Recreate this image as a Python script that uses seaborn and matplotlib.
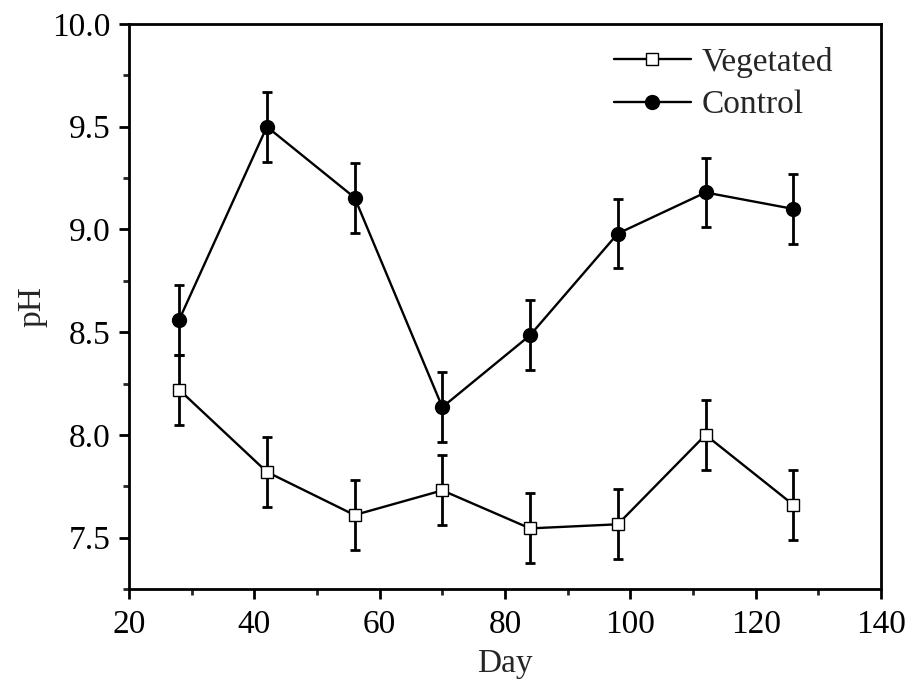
import matplotlib
matplotlib.use("Agg")
import matplotlib.pyplot as plt
from matplotlib.ticker import MultipleLocator, FormatStrFormatter
import pandas as pd
import seaborn as sns

# Sampling days and pH measurements (mean ± error)
days = [28, 42, 56, 70, 84, 98, 112, 126]
vegetated_ph = [8.22, 7.82, 7.61, 7.73, 7.545, 7.565, 8.00, 7.66]
vegetated_err = [0.17, 0.17, 0.17, 0.17, 0.17, 0.17, 0.17, 0.17]
control_ph = [8.56, 9.50, 9.155, 8.135, 8.485, 8.98, 9.18, 9.10]
control_err = [0.17, 0.17, 0.17, 0.17, 0.17, 0.17, 0.17, 0.17]

sns.set_theme(style="ticks")
plt.rcParams["font.family"] = ["Liberation Serif", "DejaVu Serif"]

df = pd.DataFrame({
    "Day": days * 2,
    "pH": vegetated_ph + control_ph,
    "err": vegetated_err + control_err,
    "Treatment": ["Vegetated"] * len(days) + ["Control"] * len(days),
})

fig = plt.figure(figsize=(9.11, 6.81), dpi=100)
ax = fig.add_axes([129 / 911, 1 - 589 / 681, (881 - 129) / 911, (589 - 24) / 681])

styles = {
    "Vegetated": dict(marker="s", markersize=9, markerfacecolor="white"),
    "Control": dict(marker="o", markersize=10, markerfacecolor="black"),
}

for name in ["Vegetated", "Control"]:
    sub = df[df["Treatment"] == name]
    ax.errorbar(sub["Day"], sub["pH"], yerr=sub["err"], fmt="none",
                ecolor="black", elinewidth=2, capsize=3.5, capthick=2, zorder=2)
    sns.lineplot(data=sub, x="Day", y="pH", ax=ax, color="black", linewidth=1.7,
                 markeredgecolor="black", markeredgewidth=1.0, label=name,
                 zorder=3, **styles[name])

ax.set_xlim(20, 140)
ax.set_ylim(7.25, 10.0)
ax.xaxis.set_major_locator(MultipleLocator(20))
ax.xaxis.set_minor_locator(MultipleLocator(10))
ax.yaxis.set_major_locator(MultipleLocator(0.5))
ax.yaxis.set_minor_locator(MultipleLocator(0.25))
ax.yaxis.set_major_formatter(FormatStrFormatter("%.1f"))

for s in ax.spines.values():
    s.set_linewidth(2)
    s.set_color("black")
ax.tick_params(axis="both", which="major", direction="out", length=7, width=2,
               labelsize=24, colors="black", pad=6, top=False, right=False)
ax.tick_params(axis="x", which="major", pad=8)
ax.tick_params(axis="both", which="minor", direction="out", length=4, width=2,
               top=False, right=False)

ax.set_xlabel("Day", fontsize=24, labelpad=6)
ax.set_ylabel("pH", fontsize=24, labelpad=4)

ax.legend(loc="upper right", frameon=False, fontsize=24, handlelength=2.3,
          handletextpad=0.33, borderaxespad=0, borderpad=0.4, labelspacing=0.36,
          bbox_to_anchor=(0.954, 0.983))

fig.savefig("out.png", dpi=100)
